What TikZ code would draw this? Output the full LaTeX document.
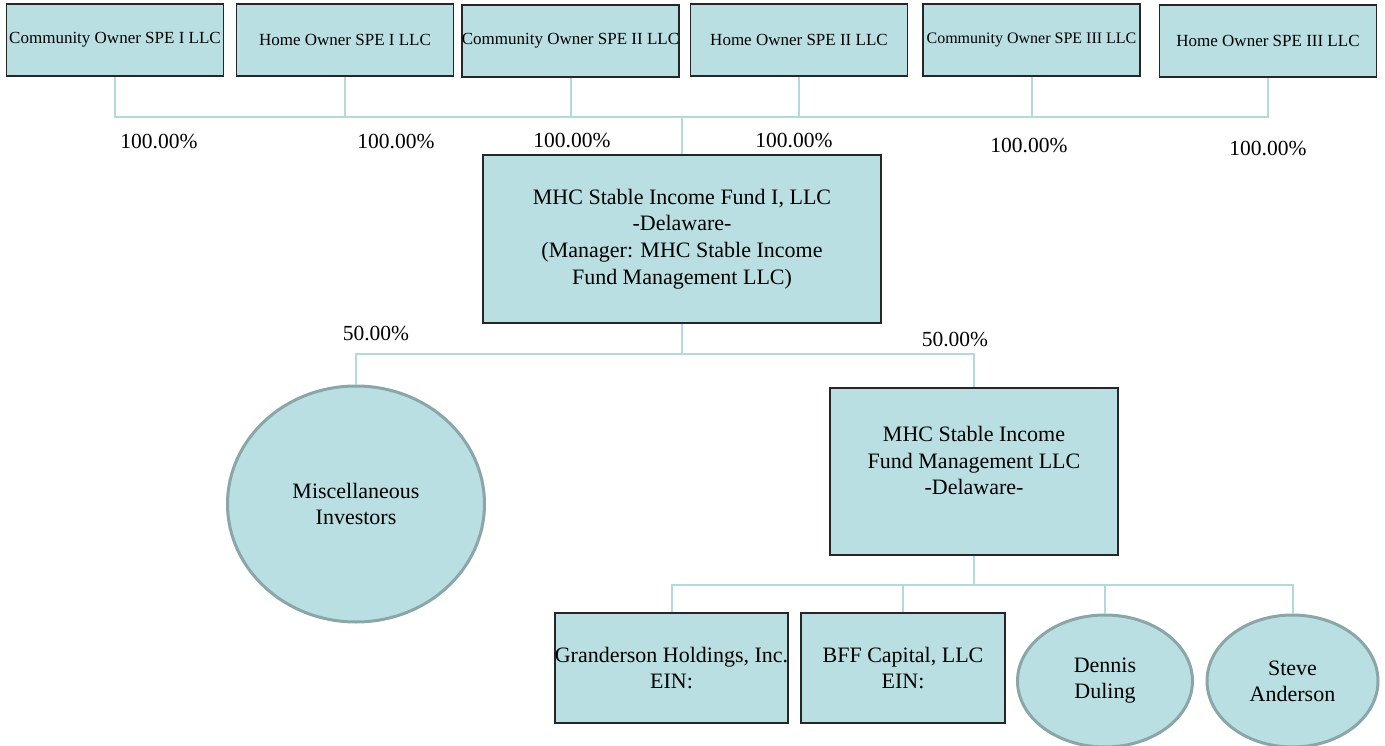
\documentclass[tikz,border=0pt]{standalone}
\usepackage{fontspec}
\setmainfont{Liberation Serif}
\usepackage{xcolor}
\usepackage{tikz}
\usetikzlibrary{arrows.meta, positioning, calc, shapes.geometric}

\definecolor{tealfill}{HTML}{B9DFE2}
\definecolor{tealline}{HTML}{B2DADE}
\definecolor{ringgray}{HTML}{8AA6A8}

\begin{document}
\begin{tikzpicture}[x=1pt, y=-1pt]
		\tikzset{
			spe/.style={draw=black!85, line width=1.5pt, fill=tealfill, minimum width=217pt, minimum height=72pt, inner sep=0pt, align=center, font=\fontsize{17}{20}\selectfont},
			entity/.style={draw=black!85, line width=1.5pt, fill=tealfill, inner sep=0pt, align=center, font=\fontsize{22}{26.7}\selectfont},
			person/.style={ellipse, draw=ringgray, line width=3pt, fill=tealfill, inner sep=0pt, align=center, font=\fontsize{22}{26}\selectfont},
			boxtext/.style={align=center, inner sep=0pt, font=\fontsize{22}{26.7}\selectfont},
			share/.style={font=\fontsize{21.5}{24}\selectfont},
			link/.style={draw=tealline, line width=2pt}
		}
		\useasboundingbox (0,0) rectangle (1385,746);
		% top row of special purpose entities
		\node[spe] (c1) at (115,40) {Community Owner SPE I LLC};
		\node[spe] (h1) at (345,40) {Home Owner SPE I LLC};
		\node[spe] (c2) at (570.5,41) {Community Owner SPE II LLC};
		\node[spe] (h2) at (799,40) {Home Owner SPE II LLC};
		\node[spe, font=\fontsize{16}{20}\selectfont] (c3) at (1031.5,40) {Community Owner SPE III LLC};
		\node[spe] (h3) at (1268,41) {Home Owner SPE III LLC};

		\node[share] (p1) at (159,142) {100.00\%};
		\node[share] (p2) at (396,142) {100.00\%};
		\node[share] (p3) at (572,141) {100.00\%};
		\node[share] (p4) at (794,141) {100.00\%};
		\node[share] (p5) at (1029,146) {100.00\%};
		\node[share] (p6) at (1268,149) {100.00\%};

		% the fund
		\node[entity, minimum width=398pt, minimum height=168pt] (fund) at (682,239) {MHC Stable Income Fund I, LLC\\-Delaware-\\(Manager: MHC Stable Income\\Fund Management LLC)};
		\coordinate (topbus) at (fund.north |- 0,117);

		\foreach \n in {c1,h1,c2,h2,c3,h3}
			\draw[link] (\n.south) |- (topbus);
		\draw[link] (topbus) -- (fund.north);

		% owners of the fund
		\node[person, minimum width=257pt, minimum height=236pt] (misc) at (356,504) {Miscellaneous\\Investors};
		\node[entity, minimum width=288pt, minimum height=167pt] (mgmt) at (974,471.5) {};
		\node[boxtext] (mgmtname) at ($(mgmt.center)+(0,-11)$) {MHC Stable Income\\Fund Management LLC\\-Delaware-};
		\node[share] (q1) at (376,334) {50.00\%};
		\node[share] (q2) at (955,340) {50.00\%};
		\coordinate (midbus) at (fund.south |- 0,354);

		\draw[link] (fund.south) -- (midbus) -| (misc.north);
		\draw[link] (midbus) -| (mgmt.north);

		% members of the manager
		\node[entity, minimum width=233pt, minimum height=110pt] (gh) at (671.5,668) {Granderson Holdings, Inc.\\EIN:};
		\node[entity, minimum width=204pt, minimum height=110pt] (bff) at (903,668) {BFF Capital, LLC\\EIN:};
		\node[person, minimum width=175pt, minimum height=132pt] (dd) at (1105,681) {Dennis\\Duling};
		\node[person, minimum width=171pt, minimum height=132pt] (sa) at (1292.5,681) {Steve\\Anderson};
		\coordinate (lowbus) at (mgmt.south |- 0,585);

		\draw[link] (mgmt.south) -- (lowbus);
		\foreach \n in {gh,bff,dd,sa}
			\draw[link] (lowbus) -| (\n.north);
	\end{tikzpicture}
\end{document}
